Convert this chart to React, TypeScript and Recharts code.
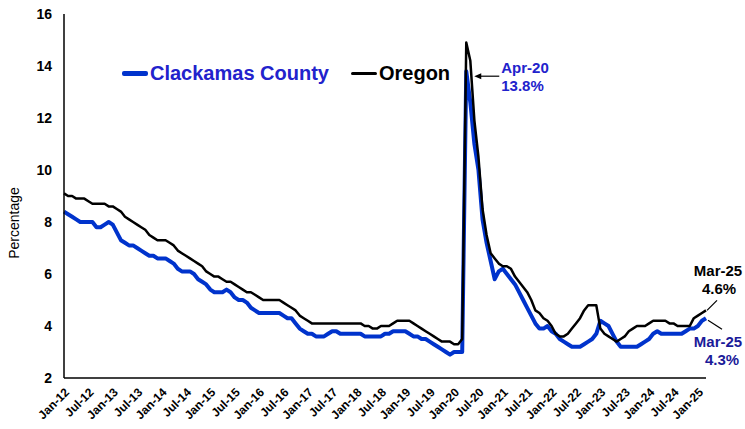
import { LineChart, Line, XAxis, YAxis, Legend, ReferenceDot } from "recharts";

// Monthly unemployment rate (%), Jan-12 .. Mar-25
const MONTH_NAMES = ["Jan", "Feb", "Mar", "Apr", "May", "Jun", "Jul", "Aug", "Sep", "Oct", "Nov", "Dec"];

const oregonRates = [
  9.1, 9.0, 9.0, 8.9, 8.9, 8.9, 8.8, 8.7, 8.7, 8.7, 8.7, 8.6, // 2012
  8.6, 8.5, 8.4, 8.2, 8.1, 8.0, 7.9, 7.8, 7.7, 7.5, 7.4, 7.3, // 2013
  7.3, 7.3, 7.2, 7.1, 6.9, 6.8, 6.7, 6.6, 6.5, 6.4, 6.3, 6.1, // 2014
  6.0, 5.9, 5.9, 5.8, 5.7, 5.7, 5.6, 5.5, 5.4, 5.3, 5.3, 5.2, // 2015
  5.1, 5.0, 5.0, 5.0, 5.0, 5.0, 4.9, 4.8, 4.7, 4.6, 4.4, 4.3, // 2016
  4.2, 4.1, 4.1, 4.1, 4.1, 4.1, 4.1, 4.1, 4.1, 4.1, 4.1, 4.1, // 2017
  4.1, 4.1, 4.0, 4.0, 3.9, 3.9, 4.0, 4.0, 4.0, 4.1, 4.2, 4.2, // 2018
  4.2, 4.2, 4.1, 4.0, 3.9, 3.8, 3.7, 3.6, 3.5, 3.4, 3.4, 3.4, // 2019
  3.3, 3.3, 3.5, 14.9, 14.2, 11.9, 10.5, 8.5, 7.5, 6.8, 6.6, 6.4, // 2020
  6.3, 6.3, 6.2, 5.9, 5.7, 5.5, 5.3, 5.0, 4.6, 4.5, 4.3, 4.2, // 2021
  4.0, 3.7, 3.6, 3.6, 3.7, 3.9, 4.1, 4.3, 4.6, 4.8, 4.8, 4.8, // 2022
  3.9, 3.7, 3.6, 3.5, 3.4, 3.5, 3.6, 3.8, 3.9, 4.0, 4.0, 4.0, // 2023
  4.1, 4.2, 4.2, 4.2, 4.2, 4.1, 4.1, 4.0, 4.0, 4.0, 4.0, 4.3, // 2024
  4.4, 4.5, 4.6, // 2025
];

const clackamasRates = [
  8.4, 8.3, 8.2, 8.1, 8.0, 8.0, 8.0, 8.0, 7.8, 7.8, 7.9, 8.0, // 2012
  7.9, 7.6, 7.3, 7.2, 7.1, 7.1, 7.0, 6.9, 6.8, 6.7, 6.7, 6.6, // 2013
  6.6, 6.6, 6.5, 6.4, 6.2, 6.1, 6.1, 6.1, 6.0, 5.8, 5.7, 5.6, // 2014
  5.4, 5.3, 5.3, 5.3, 5.4, 5.3, 5.1, 5.0, 5.0, 4.9, 4.7, 4.6, // 2015
  4.5, 4.5, 4.5, 4.5, 4.5, 4.5, 4.4, 4.3, 4.3, 4.1, 3.9, 3.8, // 2016
  3.7, 3.7, 3.6, 3.6, 3.6, 3.7, 3.8, 3.8, 3.7, 3.7, 3.7, 3.7, // 2017
  3.7, 3.7, 3.6, 3.6, 3.6, 3.6, 3.6, 3.7, 3.7, 3.8, 3.8, 3.8, // 2018
  3.8, 3.7, 3.6, 3.6, 3.5, 3.5, 3.4, 3.3, 3.2, 3.1, 3.0, 2.9, // 2019
  3.0, 3.0, 3.0, 13.8, 12.6, 11.0, 10.0, 8.1, 7.2, 6.5, 5.8, 6.1, // 2020
  6.2, 6.0, 5.8, 5.6, 5.3, 5.0, 4.7, 4.4, 4.1, 3.9, 3.9, 4.0, // 2021
  3.8, 3.7, 3.5, 3.4, 3.3, 3.2, 3.2, 3.2, 3.3, 3.4, 3.5, 3.7, // 2022
  4.2, 4.1, 4.0, 3.7, 3.4, 3.2, 3.2, 3.2, 3.2, 3.2, 3.3, 3.4, // 2023
  3.5, 3.7, 3.8, 3.7, 3.7, 3.7, 3.7, 3.7, 3.7, 3.8, 3.9, 3.9, // 2024
  4.0, 4.2, 4.3, // 2025
];

const monthLabels = oregonRates.map(
  (_v, i) => `${MONTH_NAMES[i % 12]}-${12 + Math.floor(i / 12)}`
);

const yTicks = [2, 4, 6, 8, 10, 12, 14, 16];

const data = monthLabels.map((month, i) => ({
  month,
  oregon: oregonRates[i],
  clackamas: clackamasRates[i],
}));

const FONT = "'Liberation Sans', Arial, sans-serif";
const BLUE = "#0033CC";
const BLUE_TEXT = "#2222CC";
const NAVY_TEXT = "#1A1A99";

function DateTick({ x, y, payload }: any) {
  const tx = x + 6;
  const ty = y + 7;
  return (
    <text
      x={tx}
      y={ty}
      transform={`rotate(-45, ${tx}, ${ty})`}
      textAnchor="end"
      fontFamily={FONT}
      fontSize={12}
      fontWeight="bold"
      fill="#000"
    >
      {payload.value}
    </text>
  );
}

function LegendContent() {
  const item = (color: string, thick: number, text: string, textColor: string) => (
    <div style={{ display: "flex", alignItems: "center", marginRight: 22 }}>
      <span style={{ display: "inline-block", width: 26, height: thick, background: color, borderRadius: 2, marginRight: 2 }} />
      <span style={{ color: textColor, fontSize: 20, fontWeight: "bold", fontFamily: FONT }}>{text}</span>
    </div>
  );
  return (
    <div style={{ display: "flex", alignItems: "center" }}>
      {item(BLUE, 5, "Clackamas County", BLUE_TEXT)}
      {item("#000", 3, "Oregon", "#000")}
    </div>
  );
}

function PeakLabel(props: any) {
  const { x, y } = props.viewBox;
  return (
    <g fontFamily={FONT} fontWeight="bold" fontSize={15}>
      <line x1={x + 14} y1={y + 5} x2={x + 33} y2={y + 5} stroke="#000" strokeWidth={1.2} />
      <polygon points={`${x + 8},${y + 5} ${x + 15},${y + 2} ${x + 15},${y + 8}`} fill="#000" />
      <text x={x + 35} y={y - 3} dy="0.35em" fill={BLUE_TEXT}>Apr-20</text>
      <text x={x + 35} y={y + 15} dy="0.35em" fill={BLUE_TEXT}>13.8%</text>
    </g>
  );
}

function OregonEndLabel(props: any) {
  const { x, y } = props.viewBox;
  return (
    <g fontFamily={FONT} fontWeight="bold" fontSize={15} textAnchor="middle">
      <line x1={x + 1} y1={y} x2={x + 11} y2={y - 10} stroke="#000" strokeWidth={1.2} />
      <text x={x + 12} y={y - 40} dy="0.35em" fill="#000">Mar-25</text>
      <text x={x + 13} y={y - 22} dy="0.35em" fill="#000">4.6%</text>
    </g>
  );
}

function ClackamasEndLabel(props: any) {
  const { x, y } = props.viewBox;
  return (
    <g fontFamily={FONT} fontWeight="bold" fontSize={15} textAnchor="middle">
      <line x1={x + 2} y1={y + 2} x2={x + 16} y2={y + 11} stroke="#000" strokeWidth={1.2} />
      <text x={x + 12} y={y + 24} dy="0.35em" fill={NAVY_TEXT}>Mar-25</text>
      <text x={x + 16} y={y + 42} dy="0.35em" fill={NAVY_TEXT}>4.3%</text>
    </g>
  );
}

function AxisTitle(props: any) {
  const { x, y, height } = props.viewBox;
  const cx = x - 10;
  const cy = y + height / 2 + 27;
  return (
    <text
      x={cx}
      y={cy}
      transform={`rotate(-90, ${cx}, ${cy})`}
      textAnchor="middle"
      dy="0.35em"
      fontFamily={FONT}
      fontSize={14}
      fill="#000"
    >
      Percentage
    </text>
  );
}

export default function App() {
  return (
    <div style={{ position: "absolute", left: 0, top: 0, background: "#fff" }}>
      <LineChart
        width={745}
        height={429}
        data={data}
        margin={{ top: 14, right: 39, bottom: 6, left: 24 }}
      >
        <XAxis
          dataKey="month"
          interval={5}
          tick={<DateTick />}
          tickLine={false}
          axisLine={{ stroke: "#000", strokeWidth: 1.5 }}
          height={45}
        />
        <YAxis
          domain={[2, 16]}
          ticks={yTicks}
          tickLine={false}
          axisLine={{ stroke: "#000", strokeWidth: 1.5 }}
          width={40}
          tick={{ fill: "#000", fontSize: 14, fontWeight: "bold", fontFamily: FONT }}
          tickMargin={6}
          label={{ content: AxisTitle }}
        />
        <Legend
          layout="horizontal"
          verticalAlign="middle"
          align="center"
          content={<LegendContent />}
          wrapperStyle={{ top: 62, left: 122, width: "auto" }}
        />
        <Line
          type="linear"
          dataKey="clackamas"
          stroke={BLUE}
          strokeWidth={4}
          dot={false}
          isAnimationActive={false}
          strokeLinejoin="round"
        />
        <Line
          type="linear"
          dataKey="oregon"
          stroke="#000"
          strokeWidth={2.5}
          dot={false}
          isAnimationActive={false}
          strokeLinejoin="round"
        />
        <ReferenceDot x="Apr-20" y={13.8} r={0} fill="none" stroke="none" label={PeakLabel} />
        <ReferenceDot x="Mar-25" y={4.6} r={0} fill="none" stroke="none" label={OregonEndLabel} />
        <ReferenceDot x="Mar-25" y={4.3} r={0} fill="none" stroke="none" label={ClackamasEndLabel} />
      </LineChart>
    </div>
  );
}
